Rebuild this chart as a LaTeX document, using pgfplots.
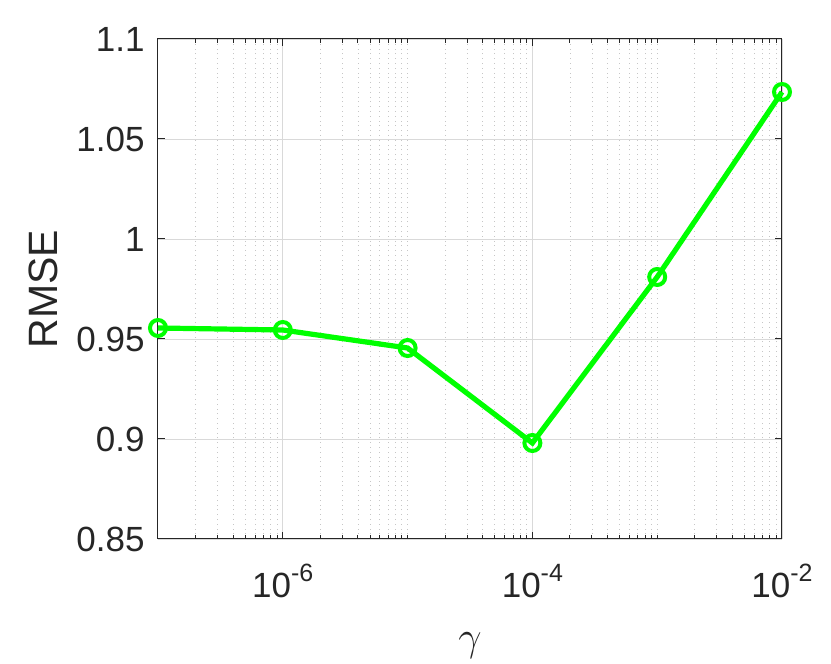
\documentclass[border=0pt]{standalone}
\usepackage{fontspec}
\setmainfont{Liberation Sans}
\usepackage{pgfplots}
\pgfplotsset{compat=1.18}
\definecolor{axgray}{gray}{0.15}
\newcommand{\tp}[1]{10\raisebox{8pt}{\fontsize{12.5}{14}\selectfont -#1}}
\begin{document}
\begin{tikzpicture}
\begin{axis}[
  xmode=log,
  width=312pt, height=250pt, scale only axis,
  xmin=1e-7, xmax=1e-2,
  ymin=0.85, ymax=1.1,
  xtick={1e-6,1e-4,1e-2},
  xticklabels={\tp{6},\tp{4},\tp{2}},
  minor xtick={2e-7,3e-7,4e-7,5e-7,6e-7,7e-7,8e-7,9e-7,
    2e-6,3e-6,4e-6,5e-6,6e-6,7e-6,8e-6,9e-6,1e-5,
    2e-5,3e-5,4e-5,5e-5,6e-5,7e-5,8e-5,9e-5,
    2e-4,3e-4,4e-4,5e-4,6e-4,7e-4,8e-4,9e-4,1e-3,
    2e-3,3e-3,4e-3,5e-3,6e-3,7e-3,8e-3,9e-3},
  ytick={0.85,0.9,0.95,1,1.05,1.1},
  yticklabels={0.85,0.9,0.95,1,1.05,1.1},
  tick align=inside,
  major tick length=3.3pt,
  minor tick length=2pt,
  xmajorgrids, xminorgrids, ymajorgrids,
  major grid style={line width=0.4pt, gray!30},
  minor grid style={line width=0.4pt, gray!45, dotted},
  axis line style={axgray, line width=0.5pt},
  every tick/.style={axgray, line width=0.5pt},
  tick label style={font=\fontsize{17.5}{20}\selectfont, text=axgray, inner sep=0pt},
  xticklabel style={anchor=base, yshift=-29.5pt},
  yticklabel style={anchor=east, xshift=-6.5pt},
  /pgf/number format/assume math mode=true,
  xlabel={$\gamma$},
  ylabel={RMSE},
  every axis x label/.style={at={(axis description cs:0.5,0)}, anchor=base, yshift=-56pt, inner sep=0pt, font=\fontsize{20.5}{23}\selectfont, text=axgray},
  every axis y label/.style={at={(axis description cs:-0.1603,0.5)}, anchor=base, rotate=90, inner sep=0pt, font=\fontsize{20.5}{23}\selectfont, text=axgray},
  clip=false,
]
\addplot[color={rgb,1:red,0;green,1;blue,0}, line width=2.6pt, mark=o, mark size=4pt, mark options={line width=2pt}]
  coordinates {(1e-7,0.9555) (1e-6,0.9545) (1e-5,0.9455) (1e-4,0.898) (1e-3,0.981) (1e-2,1.0735)};
\end{axis}
\path (current axis.south west) ++(-79pt,-62.5pt) coordinate (bl);
\path (current axis.north east) ++(24.5pt,19.5pt) coordinate (tr);
\path (bl) rectangle (tr);
\end{tikzpicture}
\end{document}
